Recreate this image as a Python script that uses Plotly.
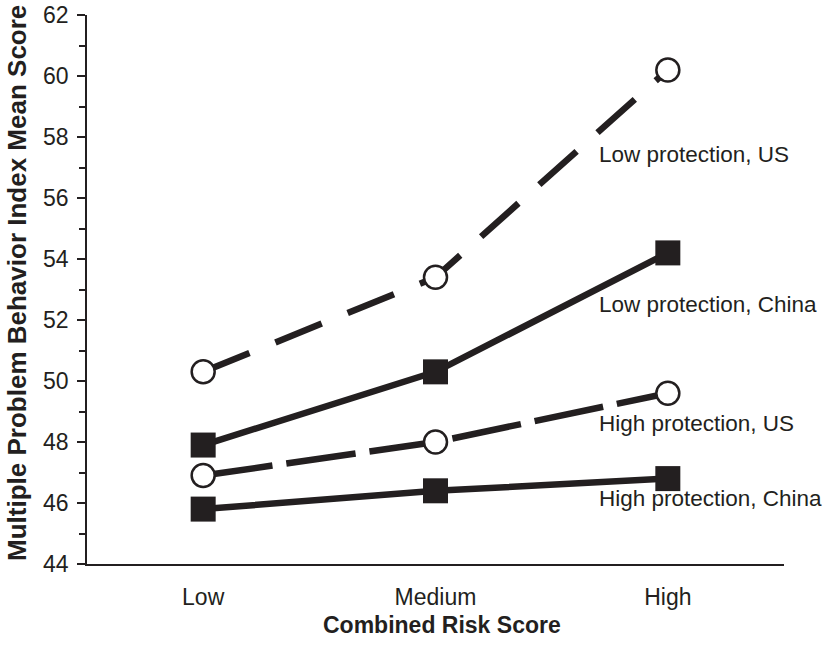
import plotly.graph_objects as go

categories = ["Low", "Medium", "High"]
low_prot_us = [50.3, 53.4, 60.2]
low_prot_china = [47.9, 50.3, 54.2]
high_prot_us = [46.9, 48.0, 49.6]
high_prot_china = [45.8, 46.4, 46.8]
series_names = ["Low protection, US", "Low protection, China",
                "High protection, US", "High protection, China"]
y_ticks = [44, 46, 48, 50, 52, 54, 56, 58, 60, 62]

INK = "#231f20"
FONT = "Liberation Sans, Arial, Helvetica, sans-serif"

fig = go.Figure()

styles = [
    (low_prot_us, "circle", "white", "50px,28px"),
    (low_prot_china, "square", INK, "solid"),
    (high_prot_us, "circle", "white", "70px,14px"),
    (high_prot_china, "square", INK, "solid"),
]

for (vals, sym, fill, dash), name in zip(styles, series_names):
    is_circle = sym == "circle"
    fig.add_trace(go.Scatter(
        x=categories, y=vals, mode="lines+markers", name=name,
        line=dict(color=INK, width=6.5, dash=dash),
        marker=dict(symbol=sym, size=23 if is_circle else 25, color=fill,
                    line=dict(color=INK, width=2.5 if is_circle else 0)),
        showlegend=False, hoverinfo="skip",
    ))

label_shifts = [-85, -52, -30, -20]
for vals, name, ys in zip([low_prot_us, low_prot_china, high_prot_us, high_prot_china],
                          series_names, label_shifts):
    fig.add_annotation(x=categories[-1], y=vals[-1], text=name, showarrow=False,
                       xanchor="left", yanchor="middle", xshift=-71, yshift=ys,
                       font=dict(family=FONT, size=22.5, color=INK))

# axis titles
fig.add_annotation(xref="paper", yref="paper", x=0.509, y=-0.111,
                   text="<b>Combined Risk Score</b>", showarrow=False,
                   xanchor="center", yanchor="middle",
                   font=dict(family=FONT, size=23, color=INK))
fig.add_annotation(xref="paper", yref="paper", x=-0.1004, y=0.512,
                   text="<b>Multiple Problem Behavior Index Mean Score</b>",
                   showarrow=False, textangle=-90,
                   xanchor="center", yanchor="middle",
                   font=dict(family=FONT, size=26, color=INK))

fig.update_layout(
    width=827, height=645,
    margin=dict(l=87, r=43, t=15, b=81),
    paper_bgcolor="white", plot_bgcolor="white",
    font=dict(family=FONT, color=INK),
)
fig.update_xaxes(
    type="category", range=[-0.5, 2.5], automargin=False,
    showline=True, linecolor=INK, linewidth=1.5,
    showgrid=False, zeroline=False, ticks="", ticklabelstandoff=12,
    tickfont=dict(family=FONT, size=23, color=INK),
)
fig.update_yaxes(
    range=[44, 62], tickvals=y_ticks, automargin=False,
    showline=True, linecolor=INK, linewidth=1.5,
    showgrid=False, zeroline=False,
    ticks="outside", ticklen=8, tickwidth=1.5, tickcolor=INK,
    ticklabelstandoff=4,
    minor=dict(dtick=1, ticks="outside", ticklen=6, tickwidth=1.5, tickcolor=INK, showgrid=False),
    tickfont=dict(family=FONT, size=23, color=INK),
)

# remove the browser's default 8px body margin so the figure sits at the page origin
fig.write_html("out.html", config={"displayModeBar": False},
               post_script="document.body.style.margin='0px';")
